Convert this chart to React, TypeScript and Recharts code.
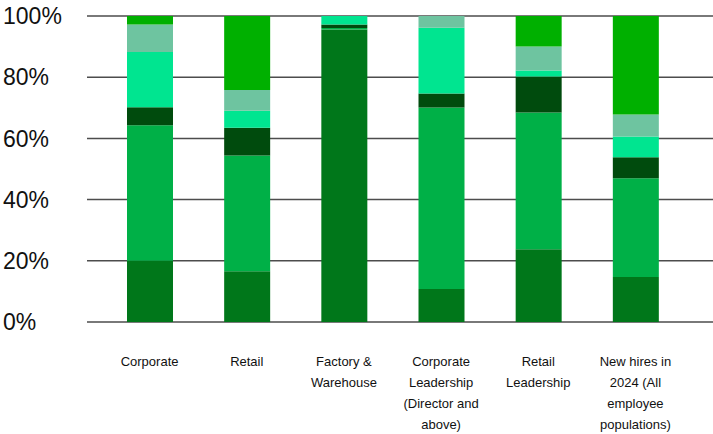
import React from "react";
import { BarChart, Bar, XAxis, YAxis, CartesianGrid } from "recharts";

const categories = [
  "Corporate",
  "Retail",
  "Factory & Warehouse",
  "Corporate Leadership (Director and above)",
  "Retail Leadership",
  "New hires in 2024 (All employee populations)",
];
const categoryLines: string[][] = [
  ["Corporate"],
  ["Retail"],
  ["Factory &", "Warehouse"],
  ["Corporate", "Leadership", "(Director and", "above)"],
  ["Retail", "Leadership"],
  ["New hires in", "2024 (All", "employee", "populations)"],
];
const seg1 = [20.0, 16.6, 95.6, 10.8, 23.8, 14.7];
const seg2 = [44.3, 37.8, 0.5, 59.3, 44.7, 32.3];
const seg3 = [5.9, 9.1, 1.1, 4.6, 11.7, 6.8];
const seg4 = [18.0, 5.5, 2.8, 21.5, 2.0, 6.8];
const seg5 = [9.0, 6.8, 0, 3.8, 7.8, 7.2];
const seg6 = [2.8, 24.2, 0, 0, 10.0, 32.2];
const yTicks = [0, 20, 40, 60, 80, 100];

const seriesKeys = ["seg1", "seg2", "seg3", "seg4", "seg5", "seg6"];
const seriesColors = ["#00771A", "#00B047", "#004B0D", "#00E590", "#6EC4A0", "#00B000"];

const data = categories.map((c, i) => ({
  name: c,
  idx: i,
  seg1: seg1[i],
  seg2: seg2[i],
  seg3: seg3[i],
  seg4: seg4[i],
  seg5: seg5[i],
  seg6: seg6[i],
}));

const YTick = (props: any) => {
  const { y, payload } = props;
  return (
    <text
      x={3}
      y={y}
      dy="0.36em"
      textAnchor="start"
      fontSize={23}
      fontFamily="'Liberation Sans', Arial, sans-serif"
      fill="#111"
    >
      {payload.value}%
    </text>
  );
};

const XTick = (props: any) => {
  const { x, y, payload, index } = props;
  const lines = categoryLines[index] || [payload.value];
  return (
    <text
      x={x}
      y={y}
      textAnchor="middle"
      fontSize={13}
      fontFamily="'Liberation Sans', Arial, sans-serif"
      fill="#111"
    >
      {lines.map((l, i) => (
        <tspan key={i} x={x} dy={i === 0 ? 43.5 : 21}>
          {l}
        </tspan>
      ))}
    </text>
  );
};

export default function App() {
  return (
    <div style={{ position: "absolute", left: 0, top: 0, width: 713, height: 434, background: "#fff" }}>
      <BarChart
        width={713}
        height={434}
        data={data}
        margin={{ top: 16, right: 0, bottom: 0, left: 0 }}
        barSize={46}
      >
        <CartesianGrid horizontal vertical={false} stroke="#4d4d4d" strokeWidth={1.5} />
        <XAxis
          dataKey="name"
          axisLine={false}
          tickLine={false}
          tickSize={0}
          tickMargin={0}
          height={112}
          interval={0}
          padding={{ left: 14, right: 29 }}
          tick={<XTick />}
        />
        <YAxis
          width={87}
          domain={[0, 100]}
          ticks={yTicks}
          axisLine={false}
          tickLine={false}
          allowDataOverflow
          tick={<YTick />}
        />
        {seriesKeys.map((k, i) => (
          <Bar key={k} dataKey={k} stackId="a" fill={seriesColors[i]} isAnimationActive={false} />
        ))}
      </BarChart>
    </div>
  );
}
